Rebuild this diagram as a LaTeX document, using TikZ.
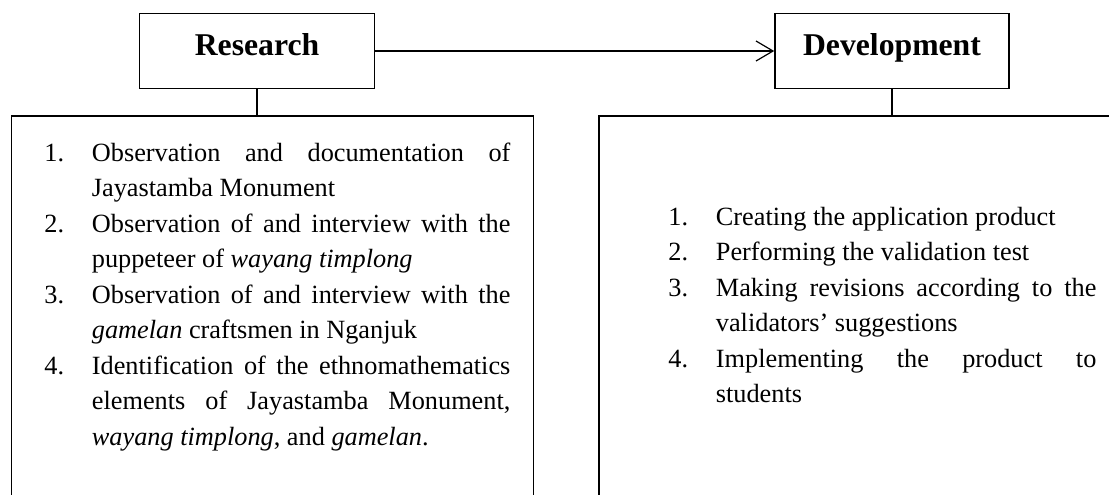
\documentclass[tikz,border=0pt]{standalone}
\usepackage{fontspec}
\setmainfont{Liberation Serif}
\usetikzlibrary{arrows.meta}

\tolerance=10000
\hbadness=10000
\hyphenpenalty=10000

\tikzset{stage/.style={draw,line width=0.8pt,minimum width=117.5pt,minimum height=37.5pt,
           font=\fontsize{15.85}{19}\selectfont\bfseries,text height=0.7em,text depth=0.25em},
         panel/.style={draw,line width=0.8pt,anchor=north west,inner sep=0pt},
         link/.style={line width=0.6pt},
         steps/.style={anchor=base west,inner sep=0pt,align=justify,
           font=\fontsize{13.15}{17.75}\selectfont}}

\newlength{\numw}
\setlength{\numw}{23.75pt}
\newcommand{\stepitem}[2]{\noindent\hangindent=\numw\hangafter=1\relax
  \makebox[\numw][l]{#1}#2\par}

\begin{document}
\begin{tikzpicture}[x=0.5pt,y=-0.5pt]
  \useasboundingbox (0,0) rectangle (1109,494);
  \clip (0,0) rectangle (1109,494);
  % the two stages
  \node[stage] (research) at (257,51) {Research};
  \node[stage,minimum width=117pt] (development) at (892,51) {Development};
  \draw[link,-{Straight Barb[length=8.5pt,width=10pt]}] (research) -- (development);
  % panels below, cut off by the page
  \node[panel,minimum width=261pt,minimum height=200pt] (rpanel) at (10.7,115) {};
  \node[panel,minimum width=280pt,minimum height=200pt] (dpanel) at (598,115) {};
  \draw[link] (research) -- (research |- rpanel.north);
  \draw[link] (development) -- (development |- dpanel.north);
  % what is done in each stage
  \node[steps,text width=233pt] (rlist) at (44,161) {%
    \stepitem{1.}{Observation and documentation of\linebreak Jayastamba Monument}
    \stepitem{2.}{Observation of and interview with the\linebreak puppeteer of \textit{wayang timplong}}
    \stepitem{3.}{Observation of and interview with the\linebreak \textit{gamelan} craftsmen in Nganjuk}
    \stepitem{4.}{Identification of the ethnomathematics\linebreak elements of Jayastamba Monument,\linebreak \textit{wayang timplong}, and \textit{gamelan}.}};
  \node[steps,text width=214pt] (dlist) at (668,225) {%
    \stepitem{1.}{Creating the application product}
    \stepitem{2.}{Performing the validation test}
    \stepitem{3.}{Making revisions according to the\linebreak validators’ suggestions}
    \stepitem{4.}{Implementing the product to\linebreak students}};
\end{tikzpicture}
\end{document}
